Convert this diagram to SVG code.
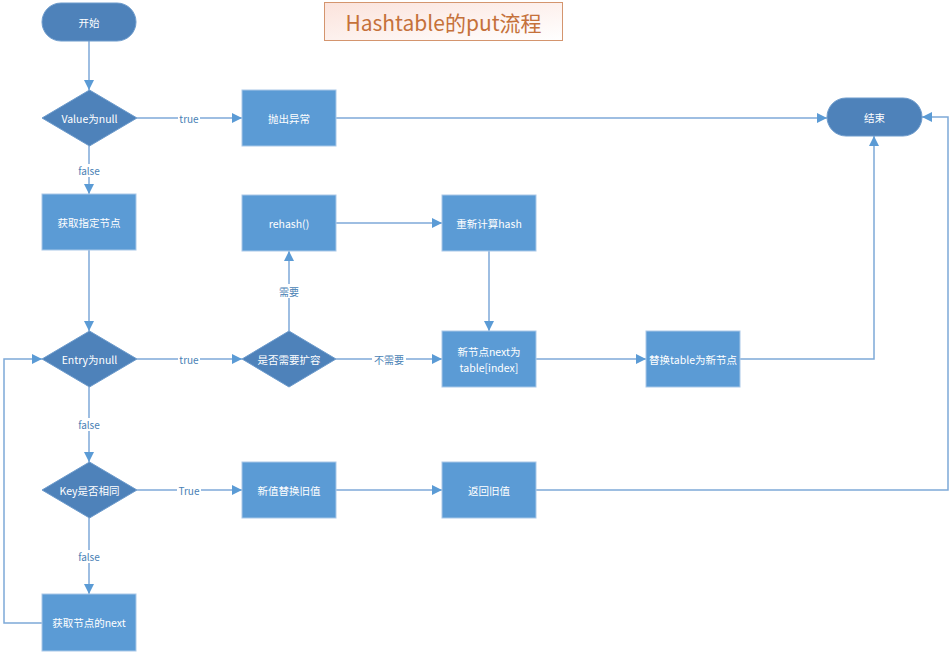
<svg xmlns="http://www.w3.org/2000/svg" width="951" height="659" viewBox="0 0 951 659">
<defs>
<marker id="arr" viewBox="0 0 10 10" refX="10" refY="5" markerWidth="10" markerHeight="10" markerUnits="userSpaceOnUse" orient="auto">
<path d="M0,0 L10,5 L0,10 z" fill="#5b9bd5"/>
</marker>
<linearGradient id="tg" x1="0" y1="0" x2="1" y2="1">
<stop offset="0" stop-color="#fbe3dc"/>
<stop offset="1" stop-color="#ffffff"/>
</linearGradient>
</defs>
<style>
.t{font-family:"Noto Sans CJK SC","Liberation Sans",sans-serif;font-size:10.5px;fill:#ffffff;text-anchor:middle;dominant-baseline:central}
.lb{font-family:"Noto Sans CJK SC","Liberation Sans",sans-serif;font-size:10px;fill:#4a7fb5;text-anchor:middle;dominant-baseline:central}
.lbg{fill:#ffffff}
.term,.dia{fill:#4e82ba;stroke:#6d9bcc;stroke-width:1}
.rect{fill:#5b9bd5;stroke:#a9c8e8;stroke-width:1}
.c{fill:none;stroke:#7ea9d8;stroke-width:1.5;marker-end:url(#arr)}
</style>
<rect width="951" height="659" fill="#ffffff"/>

<g id="title">
<rect x="324.5" y="2.5" width="238" height="38" fill="url(#tg)" stroke="#d4956e" stroke-width="1"/>
<text x="443.5" y="22" font-family="'Noto Sans CJK SC','Liberation Sans',sans-serif" font-size="21" fill="#c5713a" text-anchor="middle" dominant-baseline="central">Hashtable的put流程</text>
</g>

<g id="connectors">
<path class="c" d="M89,41 L89,90"/>
<path class="c" d="M137,118 L242,118"/>
<path class="c" d="M89,146 L89,194"/>
<path class="c" d="M336,118 L827,118"/>
<path class="c" d="M89,250 L89,331"/>
<path class="c" d="M137,359 L242,359"/>
<path class="c" d="M289,331 L289,251"/>
<path class="c" d="M336,359 L442,359"/>
<path class="c" d="M336,223 L442,223"/>
<path class="c" d="M489,251 L489,331"/>
<path class="c" d="M536,359 L646,359"/>
<path class="c" d="M740,359 L874,359 L874,136"/>
<path class="c" d="M89,387 L89,462"/>
<path class="c" d="M137,490 L242,490"/>
<path class="c" d="M336,490 L442,490"/>
<path class="c" d="M536,490 L948,490 L948,117 L922,117"/>
<path class="c" d="M89,518 L89,594"/>
<path class="c" d="M42,623 L4,623 L4,359 L42,359"/>
<rect class="lbg" x="178" y="111" width="22" height="13"/>
<text class="lb" x="189" y="118">true</text>
<rect class="lbg" x="77" y="164" width="24" height="13"/>
<text class="lb" x="89" y="170">false</text>
<rect class="lbg" x="178" y="352" width="22" height="13"/>
<text class="lb" x="189" y="359">true</text>
<rect class="lbg" x="278" y="284" width="22" height="14"/>
<text class="lb" x="289" y="291">需要</text>
<rect class="lbg" x="372" y="352" width="34" height="14"/>
<text class="lb" x="389" y="359">不需要</text>
<rect class="lbg" x="77" y="418" width="24" height="13"/>
<text class="lb" x="89" y="424">false</text>
<rect class="lbg" x="177" y="483" width="24" height="13"/>
<text class="lb" x="189" y="490">True</text>
<rect class="lbg" x="77" y="550" width="24" height="13"/>
<text class="lb" x="89" y="556">false</text>
</g>

<g id="start"><rect class="term" x="42" y="3" width="94" height="38" rx="19"/><text class="t" x="89" y="22">开始</text></g>
<g id="value-null"><path class="dia" d="M89.5,90 L137,118 L89.5,146 L42,118 z"/><text class="t" x="89.5" y="118">Value为null</text></g>
<g id="throw"><rect class="rect" x="242" y="90" width="94" height="56"/><text class="t" x="289" y="118">抛出异常</text></g>
<g id="end"><rect class="term" x="827" y="98" width="95" height="38" rx="19"/><text class="t" x="874.5" y="117">结束</text></g>
<g id="get-node"><rect class="rect" x="42" y="194" width="94" height="56"/><text class="t" x="89" y="222">获取指定节点</text></g>
<g id="rehash"><rect class="rect" x="242" y="195" width="94" height="56"/><text class="t" x="289" y="223">rehash()</text></g>
<g id="recalc"><rect class="rect" x="442" y="195" width="94" height="56"/><text class="t" x="489" y="223">重新计算hash</text></g>
<g id="entry-null"><path class="dia" d="M89.5,331 L137,359 L89.5,387 L42,359 z"/><text class="t" x="89.5" y="359">Entry为null</text></g>
<g id="need-resize"><path class="dia" d="M289,331 L336,359 L289,387 L242,359 z"/><text class="t" x="289" y="359">是否需要扩容</text></g>
<g id="new-node"><rect class="rect" x="442" y="331" width="94" height="56"/><text class="t" x="489" y="351">新节点next为</text><text class="t" x="489" y="367">table[index]</text></g>
<g id="replace-table"><rect class="rect" x="646" y="331" width="94" height="56"/><text class="t" x="693" y="359" font-size="10">替换table为新节点</text></g>
<g id="key-same"><path class="dia" d="M89.5,462 L137,490 L89.5,518 L42,490 z"/><text class="t" x="89.5" y="490">Key是否相同</text></g>
<g id="replace-value"><rect class="rect" x="242" y="462" width="94" height="56"/><text class="t" x="289" y="490">新值替换旧值</text></g>
<g id="return-old"><rect class="rect" x="442" y="462" width="94" height="56"/><text class="t" x="489" y="490">返回旧值</text></g>
<g id="get-next"><rect class="rect" x="42" y="594" width="94" height="57"/><text class="t" x="89" y="622">获取节点的next</text></g>
</svg>
